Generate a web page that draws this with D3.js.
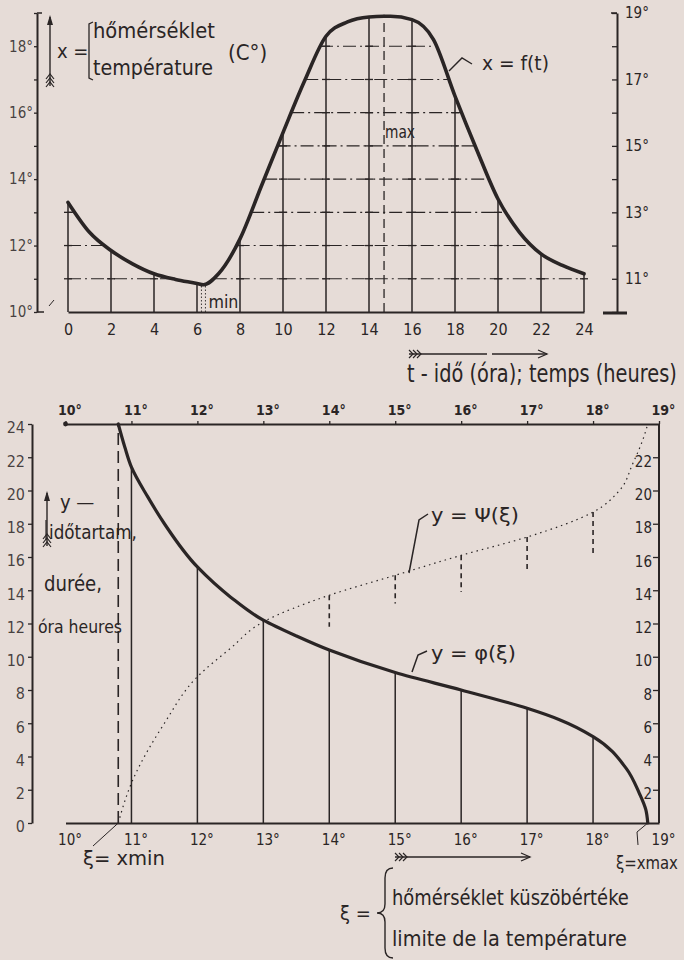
<!DOCTYPE html>
<html>
<head>
<meta charset="utf-8">
<script src="https://cdn.jsdelivr.net/npm/d3@7"></script>
<style>
  body { margin: 0; background: #e6dcd7; }
  svg { display: block; }
  text { font-family: "DejaVu Sans Condensed", "DejaVu Sans", sans-serif; fill: #2a2525; }
</style>
</head>
<body>
<svg id="chart" width="684" height="960"></svg>
<script>
// ---- top chart : temperature during the day, x = f(t)
const curveHours = [0, 1, 2, 3, 4, 5, 6, 6.3, 7, 8, 9, 10, 11, 12, 13, 14, 14.7, 15, 16, 17, 18, 19, 20, 21, 22, 23, 24];
const curveTemps = [13.3, 12.4, 11.85, 11.45, 11.15, 10.98, 10.86, 10.82, 11.15, 12.2, 13.8, 15.4, 16.95, 18.3, 18.73, 18.88, 18.9, 18.9, 18.8, 18.2, 16.5, 14.9, 13.4, 12.4, 11.75, 11.4, 11.15];
const hourTicks = [0, 2, 4, 6, 8, 10, 12, 14, 16, 18, 20, 22, 24];
const tempTicks = [10, 11, 12, 13, 14, 15, 16, 17, 18, 19];
const gridLevels = [11, 12, 13, 14, 15, 16, 17, 18];
const hourOfMin = 6.3, hourOfMax = 14.7;

// ---- bottom chart : duration curves y = phi(xi), y = psi(xi)
const xiTicks = [10, 11, 12, 13, 14, 15, 16, 17, 18, 19];
const durationTicks = [0, 2, 4, 6, 8, 10, 12, 14, 16, 18, 20, 22, 24];
const rightDurationTicks = [2, 4, 6, 8, 10, 12, 14, 16, 18, 20, 22];
const phiXi = [10.8, 10.9, 11, 11.25, 11.5, 12, 12.5, 13, 13.5, 14, 15, 16, 17, 17.5, 18, 18.5, 18.7, 18.8, 18.83];
const phiHours = [24, 22.6, 21.4, 19.6, 18.0, 15.4, 13.6, 12.2, 11.25, 10.4, 9.05, 8.0, 6.9, 6.2, 5.2, 3.3, 1.8, 0.8, 0];
const psiXi = [10.8, 11, 11.5, 12, 12.5, 13, 14, 15, 16, 17, 18, 18.4, 18.6, 18.75, 18.83];
const psiHours = [0, 2.4, 6.0, 8.8, 10.5, 12.1, 13.7, 14.9, 16.1, 17.2, 18.7, 20.0, 21.6, 23.0, 24];
const stemXi = [11, 12, 13, 14, 15, 16, 17, 18];
const stemHours = [21.4, 15.4, 12.2, 10.4, 9.05, 8.0, 6.9, 5.2];
const dashXi = [14, 15, 16, 17, 18];
const dashTop = [13.7, 14.9, 16.1, 17.2, 18.7];
const dashLow = [11.8, 13.2, 13.9, 15.1, 16.1];
const xiMin = 10.8, xiMax = 18.83;

const ink = "#2a2525";
const svg = d3.select("#chart");

// scales
const xT = d3.scaleLinear().domain([0, 24]).range([68, 584]);
const yT = d3.scaleLinear().domain([10, 19]).range([312, 13]);
const xB = d3.scaleLinear().domain([10, 19]).range([65.5, 659]);
const yB = d3.scaleLinear().domain([0, 24]).range([823, 424]);

function styleAxis(g, size) {
  g.selectAll("path, line").attr("stroke", ink);
  g.select(".domain").attr("stroke-width", 2);
  g.selectAll(".tick line").attr("stroke-width", 1.3);
  g.selectAll("text").attr("font-size", size).attr("fill", ink)
    .attr("font-family", "\"DejaVu Sans Condensed\", \"DejaVu Sans\", sans-serif");
}

function upArrow(x, yTop, yBot) {
  svg.append("line").attr("x1", x).attr("x2", x).attr("y1", yTop).attr("y2", yBot)
    .attr("stroke", ink).attr("stroke-width", 1.4);
  svg.append("path").attr("d", `M${x},${yTop - 2} L${x - 3},${yTop + 8} L${x + 3},${yTop + 8} Z`).attr("fill", ink);
  for (let k = 0; k < 3; k++) {
    const y = yBot - k * 4;
    svg.append("path").attr("d", `M${x - 4},${y + 1} L${x},${y - 4} L${x + 4},${y + 1}`)
      .attr("fill", "none").attr("stroke", ink).attr("stroke-width", 1.2);
  }
}

function rightArrow(x1, x2, y, gap) {
  const segs = gap ? [[x1, gap[0]], [gap[1], x2]] : [[x1, x2]];
  segs.forEach(s => svg.append("line").attr("x1", s[0]).attr("x2", s[1]).attr("y1", y).attr("y2", y)
    .attr("stroke", ink).attr("stroke-width", 1.3));
  svg.append("path").attr("d", `M${x2 - 9},${y - 4} L${x2},${y} L${x2 - 9},${y + 4}`)
    .attr("fill", "none").attr("stroke", ink).attr("stroke-width", 1.3);
  for (let k = 0; k < 3; k++) {
    const x = x1 + k * 4;
    svg.append("path").attr("d", `M${x},${y - 4} L${x + 4},${y} L${x},${y + 4}`)
      .attr("fill", "none").attr("stroke", ink).attr("stroke-width", 1.2);
  }
}

// text squeezed to a given width with a horizontal scale
function label(x, y, txt, size, opts) {
  const t = svg.append("text").attr("font-size", size).text(txt);
  let sx = 1;
  if (opts && opts.len) sx = opts.len / t.node().getComputedTextLength();
  t.attr("transform", `translate(${x},${y}) scale(${sx},1)`);
  return t;
}

// ================= TOP CHART =================
const topG = svg.append("g");
const fLine = d3.line().x((d, i) => xT(curveHours[i])).y(d => yT(d)).curve(d3.curveMonotoneX);

// hidden copy of the curve used to find where the grid levels meet it
const probe = topG.append("path").attr("d", fLine(curveTemps)).attr("fill", "none").attr("stroke", "none");
const node = probe.node(), total = node.getTotalLength();
const pts = d3.range(0, 801).map(i => node.getPointAtLength(total * i / 800));

gridLevels.forEach(L => {
  const py = yT(L);
  let inside = false, start = 0;
  const segs = [];
  pts.forEach((p, i) => {
    const above = p.y < py;
    if (above && !inside) {
      if (i === 0) start = p.x;
      else { const q = pts[i - 1]; start = q.x + (p.x - q.x) * (q.y - py) / (q.y - p.y); }
      inside = true;
    } else if (!above && inside) {
      const q = pts[i - 1];
      segs.push([start, q.x + (p.x - q.x) * (q.y - py) / (q.y - p.y)]);
      inside = false;
    }
  });
  if (inside) segs.push([start, pts[pts.length - 1].x]);
  segs.forEach(s => topG.append("line").attr("x1", s[0]).attr("x2", s[1]).attr("y1", py).attr("y2", py)
    .attr("stroke", ink).attr("stroke-width", 1.1).attr("stroke-dasharray", "13,4,2,4"));
  // small crosses on the hour lines
  hourTicks.forEach(h => {
    const v = curveTemps[curveHours.indexOf(h)];
    if (v > L + 0.05) topG.append("line").attr("x1", xT(h) - 4).attr("x2", xT(h) + 4)
      .attr("y1", py).attr("y2", py).attr("stroke", ink).attr("stroke-width", 1.3);
  });
});

// vertical hour lines from base to the curve
topG.selectAll(".hourline").data(hourTicks).join("line")
  .attr("x1", d => xT(d)).attr("x2", d => xT(d))
  .attr("y1", yT(10)).attr("y2", d => yT(curveTemps[curveHours.indexOf(d)]))
  .attr("stroke", ink).attr("stroke-width", 1.5);

// min and max markers
[-2, 2].forEach(o => topG.append("line").attr("x1", xT(hourOfMin) + o).attr("x2", xT(hourOfMin) + o)
  .attr("y1", yT(10)).attr("y2", yT(10.82)).attr("stroke", ink).attr("stroke-width", 0.9).attr("stroke-dasharray", "1.5,2"));
topG.append("line").attr("x1", xT(hourOfMax)).attr("x2", xT(hourOfMax)).attr("y1", yT(10)).attr("y2", yT(18.95))
  .attr("stroke", ink).attr("stroke-width", 1.3).attr("stroke-dasharray", "9,5");
label(xT(hourOfMin) + 5, 308, "min", 17, { len: 30 });
label(xT(hourOfMax) + 1, 138, "max", 17, { len: 30 });

// the curve
topG.append("path").attr("d", fLine(curveTemps)).attr("fill", "none")
  .attr("stroke", ink).attr("stroke-width", 3.6).attr("stroke-linecap", "round");

// axes
const axL = topG.append("g").attr("transform", `translate(37,0)`)
  .call(d3.axisLeft(yT).tickValues(tempTicks).tickSize(3).tickSizeOuter(0).tickPadding(1)
    .tickFormat(d => d % 2 === 0 ? d + "°" : ""));
styleAxis(axL, 15);
axL.selectAll("text").attr("fill-opacity", 0.85);
topG.append("path").attr("d", "M42,13 L37,13 M37,312 L44,312").attr("stroke", ink).attr("stroke-width", 1.5).attr("fill", "none");
topG.append("line").attr("x1", 49).attr("x2", 54).attr("y1", 306).attr("y2", 300).attr("stroke", ink).attr("stroke-width", 1);

const axR = topG.append("g").attr("transform", `translate(617,0)`)
  .call(d3.axisRight(yT).tickValues(tempTicks).tickSizeInner(-5).tickSizeOuter(0).tickPadding(8)
    .tickFormat(d => d % 2 === 1 ? d + "°" : ""));
styleAxis(axR, 15);
topG.append("path").attr("d", "M611,13 L617,13").attr("stroke", ink).attr("stroke-width", 1.5);
topG.append("line").attr("x1", 603).attr("x2", 627).attr("y1", 313).attr("y2", 313).attr("stroke", ink).attr("stroke-width", 3);

const axB = topG.append("g").attr("transform", `translate(0,${yT(10)})`)
  .call(d3.axisBottom(xT).tickValues(hourTicks).tickSize(0).tickPadding(12));
styleAxis(axB, 16);

// labels of the top chart
upArrow(50, 17, 86);
label(57, 58, "x =", 20);
svg.append("path").attr("d", "M93,22 L89,24 L89,78 L93,80").attr("fill", "none").attr("stroke", ink).attr("stroke-width", 1.3);
label(93, 38, "hőmérséklet", 22, { len: 122 });
label(93, 75, "température", 22, { len: 120 });
label(228, 60, "(C°)", 22);
svg.append("path").attr("d", "M449,71 L462,58 L472,64").attr("fill", "none").attr("stroke", ink).attr("stroke-width", 1.4);
label(482, 70, "x = f(t)", 20, { len: 67 });
rightArrow(409, 547, 354, [487, 492]);
label(407, 382, "t - idő (óra); temps (heures)", 24, { len: 270 });

// ================= BOTTOM CHART =================
const botG = svg.append("g");

// stems up to phi
botG.selectAll(".stem").data(stemXi).join("line")
  .attr("x1", d => xB(d)).attr("x2", d => xB(d))
  .attr("y1", yB(0)).attr("y2", (d, i) => yB(stemHours[i]))
  .attr("stroke", ink).attr("stroke-width", 1.5);

// short dashed marks under psi
botG.selectAll(".dash").data(dashXi).join("line")
  .attr("x1", d => xB(d)).attr("x2", d => xB(d))
  .attr("y1", (d, i) => yB(dashTop[i])).attr("y2", (d, i) => yB(dashLow[i]))
  .attr("stroke", ink).attr("stroke-width", 1.6).attr("stroke-dasharray", "5,4");

// xi min line
botG.append("line").attr("x1", xB(xiMin)).attr("x2", xB(xiMin)).attr("y1", yB(0)).attr("y2", yB(24))
  .attr("stroke", ink).attr("stroke-width", 1.6).attr("stroke-dasharray", "12,6");

const phiLine = d3.line().x((d, i) => xB(phiXi[i])).y(d => yB(d)).curve(d3.curveMonotoneY);
const psiLine = d3.line().x((d, i) => xB(psiXi[i])).y(d => yB(d)).curve(d3.curveMonotoneY);

botG.append("path").attr("d", psiLine(psiHours)).attr("fill", "none")
  .attr("stroke", ink).attr("stroke-width", 1.2).attr("stroke-dasharray", "1.5,4");
botG.append("path").attr("d", phiLine(phiHours)).attr("fill", "none")
  .attr("stroke", ink).attr("stroke-width", 3.2).attr("stroke-linecap", "round");

// axes
const axBT = botG.append("g").attr("transform", `translate(0,${yB(24)})`)
  .call(d3.axisTop(xB).tickValues(xiTicks).tickSize(3).tickSizeOuter(0).tickPadding(6).tickFormat(d => d + "°"));
styleAxis(axBT, 15);
axBT.selectAll("text").attr("dx", 4).attr("font-weight", "bold").attr("font-size", 14);
botG.append("circle").attr("cx", xB(10)).attr("cy", yB(24)).attr("r", 2.4).attr("fill", ink);

const axBB = botG.append("g").attr("transform", `translate(0,${yB(0)})`)
  .call(d3.axisBottom(xB).tickValues(xiTicks).tickSize(0).tickSizeOuter(0).tickPadding(11).tickFormat(d => d + "°"));
styleAxis(axBB, 15);
axBB.selectAll("text").attr("dx", 4);

const axBL = botG.append("g").attr("transform", `translate(32,0)`)
  .call(d3.axisLeft(yB).tickValues(durationTicks).tickSize(4).tickSizeOuter(0).tickPadding(3));
styleAxis(axBL, 16);
axBL.selectAll("text").attr("dy", "0.55em").attr("fill-opacity", 0.85);

const axBR = botG.append("g").attr("transform", `translate(${xB(19)},0)`)
  .call(d3.axisLeft(yB).tickValues(rightDurationTicks).tickSize(6).tickSizeOuter(0).tickPadding(1));
axBR.select(".domain").attr("d", `M0,${yB(24)}V${yB(0)}`);
styleAxis(axBR, 15);
axBR.selectAll("text").attr("dy", "0.6em");

// labels of the bottom chart
upArrow(47, 493, 546);
label(60, 509, "y —", 20);
svg.append("line").attr("x1", 46).attr("x2", 46).attr("y1", 520).attr("y2", 540).attr("stroke", ink).attr("stroke-width", 1.2);
label(49, 539, "időtartam,", 19, { len: 88 });
label(44, 591, "durée,", 21, { len: 58 });
label(38, 633, "óra heures", 18, { len: 84 });

svg.append("path").attr("d", "M409,573 L419,520 L428,514").attr("fill", "none").attr("stroke", ink).attr("stroke-width", 1.5);
label(431, 522, "y = Ψ(ξ)", 19, { len: 88 });
svg.append("path").attr("d", "M412,672 L418,655 L427,651").attr("fill", "none").attr("stroke", ink).attr("stroke-width", 1.5);
label(431, 660, "y = φ(ξ)", 19, { len: 85 });

svg.append("line").attr("x1", 93).attr("x2", xB(xiMin)).attr("y1", 846).attr("y2", yB(0)).attr("stroke", ink).attr("stroke-width", 1);
label(83, 865, "ξ= xmin", 19, { len: 82 });
svg.append("path").attr("d", `M${xB(xiMax)},${yB(0)} L637,832 L638,845`).attr("fill", "none").attr("stroke", ink).attr("stroke-width", 1);
label(616, 869, "ξ=xmax", 18, { len: 62 });

rightArrow(395, 530, 857);
label(340, 920, "ξ =", 20);
svg.append("path").attr("d", "M393,868 Q385,868 385,878 L385,904 Q385,913 377,913 Q385,913 385,922 L385,948 Q385,958 393,958")
  .attr("fill", "none").attr("stroke", ink).attr("stroke-width", 1.4);
label(392, 905, "hőmérséklet küszöbértéke", 21, { len: 237 });
label(392, 946, "limite de la température", 21, { len: 235 });
</script>
</body>
</html>
